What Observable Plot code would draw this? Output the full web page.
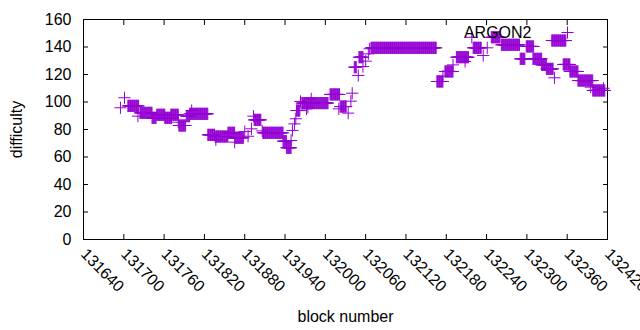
<!DOCTYPE html>
<html><head><meta charset="utf-8">
<script src="https://cdn.jsdelivr.net/npm/d3@7"></script>
<script src="https://cdn.jsdelivr.net/npm/@observablehq/plot@0.6"></script>
<style>body{margin:0;background:#fff;}</style>
</head><body><div id="chart"></div>
<script>
// Runs of constant difficulty: [start block, end block] -> value
const runStart = [131695,131701,131706,131721,131724,131742,131749,131761,131770,131781,131782,131793,131798,131801,131825,131836,131837,131855,131865,131866,131880,131885,131890,131893,131894,131906,131907,131937,131942,131949,131951,131954,131956,131957,131963,131965,131972,131974,131979,132007,132020,132022,132034,132038,132040,132043,132049,132050,132056,132060,132064,132066,132068,132166,132175,132178,132190,132195,132208,132218,132220,132235,132241,132247,132262,132290,132299,132309,132322,132329,132337,132341,132354,132364,132376,132395,132398,132414];
const runEnd   = [131695,131701,131722,131721,131742,131748,131761,131771,131781,131781,131792,131798,131825,131801,131835,131855,131837,131865,131865,131878,131880,131885,131890,131893,131904,131906,131937,131942,131949,131949,131951,131954,131956,131962,131963,132004,131972,131974,131979,132021,132020,132031,132034,132038,132040,132046,132049,132056,132056,132060,132064,132066,132165,132175,132175,132190,132190,132213,132208,132218,132232,132235,132241,132260,132289,132297,132310,132322,132329,132339,132358,132341,132364,132376,132398,132395,132416,132414];
const runValue = [95.8,103.1,97.2,89.7,92.1,88.5,90.7,88.5,90.7,85.3,82.9,89.7,91.4,93.8,76.1,74.9,72.5,77.6,70.8,74.0,78.5,75.1,80.5,89.7,87.0,79.0,77.6,71.5,66.7,72.0,79.3,84.1,87.8,93.8,100.4,99.2,95.0,96.2,102.3,105.5,95.0,96.7,91.9,100.6,106.4,125.3,119.3,132.6,125.8,129.7,135.0,138.7,139.4,114.9,118.8,122.2,127.0,132.6,129.5,147.1,139.4,133.8,139.4,147.1,141.6,131.4,140.4,131.4,127.0,124.1,144.7,117.6,127.3,122.2,115.6,110.8,108.4,110.0];
const xTicks = [131640,131700,131760,131820,131880,131940,132000,132060,132120,132180,132240,132300,132360,132420];
const yTicks = [0,20,40,60,80,100,120,140,160];
const seriesName = "ARGON2";
const xLabel = "block number";
const yLabel = "difficulty";

const points = [];
runStart.forEach((s, i) => {
  for (let b = s; b <= runEnd[i]; b++) points.push({block: b, difficulty: runValue[i]});
});

const color = "#9400d3";
const chart = Plot.plot({
  width: 640, height: 330,
  marginLeft: 83, marginRight: 33, marginTop: 19, marginBottom: 91,
  style: {fontFamily: "'Liberation Sans', Arial, sans-serif", fontSize: "16px", color: "black", background: "white"},
  x: {domain: [131640, 132420]},
  y: {domain: [0, 160]},
  marks: [
    Plot.frame({stroke: "black"}),
    Plot.axisX(xTicks, {tickSize: -5, tickPadding: 17, tickRotate: 45, tickFormat: "d", label: xLabel, labelAnchor: "center", labelOffset: 82, labelArrow: false}),
    Plot.axisX(xTicks, {anchor: "top", tickSize: -5, fill: "none", label: null}),
    Plot.axisY(yTicks, {tickSize: -5, tickPadding: 17, label: yLabel, labelAnchor: "center", labelOffset: 73, labelArrow: false}),
    Plot.axisY(yTicks, {anchor: "right", tickSize: -5, fill: "none", label: null}),
    Plot.dot(points, {x: "block", y: "difficulty", symbol: "plus", r: 4, stroke: color, strokeWidth: 1}),
    Plot.text([seriesName], {frameAnchor: "top-right", dx: -76, dy: 13, textAnchor: "end", lineAnchor: "middle", fill: "black"}),
    Plot.dot([seriesName], {x: null, y: null, frameAnchor: "top-right", dx: -40, dy: 13, symbol: "plus", r: 4, stroke: color, strokeWidth: 1})
  ]
});
document.getElementById("chart").append(chart);
</script>
</body></html>
